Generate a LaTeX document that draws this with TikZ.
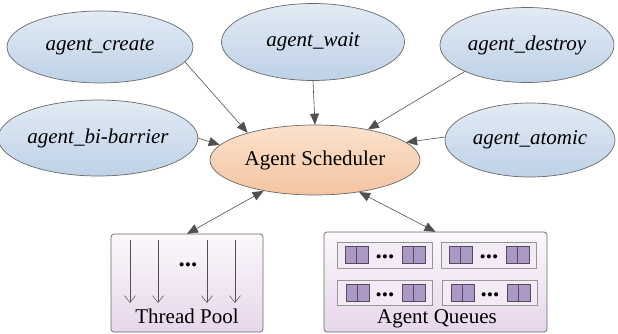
\documentclass[tikz,border=0pt]{standalone}
\usepackage{fontspec}
\setmainfont{Liberation Serif}
\usetikzlibrary{shapes.geometric,arrows.meta}
\definecolor{edgegray}{RGB}{80,80,80}
\definecolor{bordergray}{RGB}{105,105,105}
\definecolor{bluetop}{RGB}{226,235,245}
\definecolor{bluebot}{RGB}{190,209,230}
\definecolor{peachtop}{RGB}{251,226,205}
\definecolor{peachbot}{RGB}{244,196,160}
\definecolor{boxtop}{RGB}{252,248,252}
\definecolor{boxbot}{RGB}{230,214,234}
\definecolor{cellfill}{RGB}{172,152,196}
\definecolor{celldraw}{RGB}{85,75,95}
\definecolor{innergray}{RGB}{150,150,150}
\tikzset{
  txt/.style={font=\fontsize{21}{25}\selectfont},
  fn/.style={ellipse, draw=bordergray, line width=0.7pt, top color=bluetop, bottom color=bluebot,
    inner sep=0pt, txt, font=\fontsize{21}{25}\selectfont\itshape},
  sched/.style={ellipse, draw=bordergray, line width=0.7pt, top color=peachtop, bottom color=peachbot,
    inner sep=0pt, txt},
  bigbox/.style={draw=bordergray, line width=0.7pt, rounded corners=3pt, top color=boxtop, bottom color=boxbot},
  conn/.style={draw=edgegray, line width=0.6pt, -{Triangle[length=11pt,width=9pt]}},
  biconn/.style={draw=edgegray, line width=0.6pt, {Triangle[length=11pt,width=9pt]}-{Triangle[length=11pt,width=9pt]}},
  thr/.style={draw=edgegray, line width=0.5pt, -{Straight Barb[length=7pt,width=11pt,line width=0.5pt]}},
  inner/.style={draw=innergray, line width=0.6pt, fill=boxtop!60!boxbot},
  cellst/.style={draw=celldraw, line width=0.6pt, fill=cellfill},
  dots/.style={anchor=base, inner sep=0pt, font=\fontsize{25}{28}\selectfont\bfseries},
  cellpair/.pic={\draw[cellst] (0,0) rectangle (11.5,17); \draw[cellst] (11.5,0) rectangle (23,17);}
}
\begin{document}
\begin{tikzpicture}[x=1pt,y=-1pt]
\useasboundingbox (0,0) rectangle (618,333);
% ellipses
\node[fn, minimum width=186pt, minimum height=72pt] (create) at (100,47) {agent\_create};
\node[fn, minimum width=183pt, minimum height=77pt] (wait) at (313,42) {agent\_wait};
\node[fn, minimum width=174pt, minimum height=75pt] (destroy) at (527,45) {agent\_destroy};
\node[fn, minimum width=186pt, minimum height=76pt] (barrier) at (98,138) {agent\_bi-barrier};
\node[fn, minimum width=170pt, minimum height=74pt] (atomic) at (530,140) {agent\_atomic};
\node[sched, minimum width=210pt, minimum height=70pt] (sch) at (315,160) {Agent Scheduler};
% boxes
\path[bigbox] (111,234) rectangle (263,332);
\node[inner sep=0pt, minimum width=152pt, minimum height=98pt] (pool) at (187,283) {};
\path[bigbox] (324,232) rectangle (547,332);
\node[inner sep=0pt, minimum width=223pt, minimum height=100pt] (queues) at (435.5,282) {};
% thread pool content
\foreach \x/\n in {130/t1,158/t2,207/t3,235/t4}{
  \coordinate (\n a) at (\x,240);
  \coordinate (\n b) at (\x,303);
  \draw[thr] (\n a) -- (\n b);
}
\node[dots] (pdots) at (188,266) {...};
\node[txt, anchor=base, inner sep=0pt] (pooltxt) at (187,323) {Thread Pool};
% queues content
\draw[inner] (337,242) rectangle (432,268);
\draw[inner] (441,242) rectangle (536,268);
\draw[inner] (337,280) rectangle (432,305);
\draw[inner] (442,280) rectangle (537,305);
\pic at (345,246) {cellpair};
\pic at (402,246) {cellpair};
\pic at (449,246) {cellpair};
\pic at (506,246) {cellpair};
\pic at (346,284) {cellpair};
\pic at (402,284) {cellpair};
\pic at (451,284) {cellpair};
\pic at (507,284) {cellpair};
\node[dots] (qd1) at (385,258) {...};
\node[dots] (qd2) at (489,258) {...};
\node[dots] (qd3) at (385,296) {...};
\node[dots] (qd4) at (490,296) {...};
\node[txt, anchor=base, inner sep=0pt] (qtxt) at (437,323) {Agent Queues};
% connectors
\draw[conn] (create.-10) -- (sch.158);
\draw[conn] (wait.south) -- (sch.north);
\draw[conn] (destroy.203) -- (sch.30);
\draw[conn] (barrier.0) -- (sch.171);
\draw[conn] (atomic.178) -- (sch.11.7);
\draw[biconn] (pool.north) -- (sch.211);
\draw[biconn] (queues.north) -- (sch.-36);
\end{tikzpicture}
\end{document}
